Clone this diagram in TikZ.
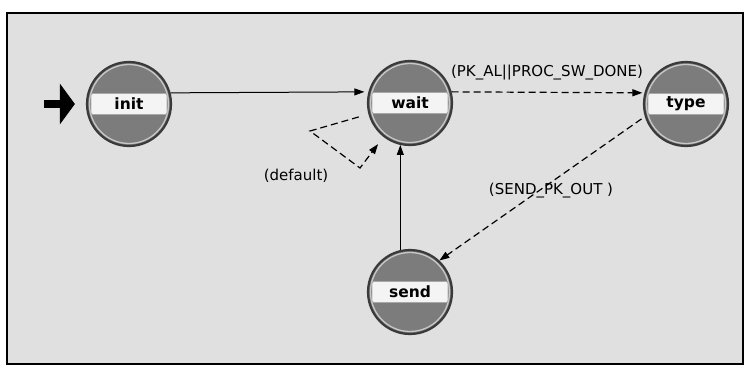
\documentclass[tikz,border=0pt]{standalone}
\usepackage{fontspec}
\setmainfont{DejaVu Sans}
\usetikzlibrary{arrows.meta}
\definecolor{bg}{HTML}{E0E0E0}
\definecolor{stfill}{HTML}{7C7C7C}
\definecolor{stline}{HTML}{3A3A3A}
\definecolor{string}{HTML}{C8C8C8}
\definecolor{band}{HTML}{F4F4F4}
\definecolor{bandline}{HTML}{A8A8A8}
\begin{document}
\begin{tikzpicture}[x=1pt,y=-1pt,
  state/.style={circle, minimum size=84pt, inner sep=0pt, fill=stfill, draw=stline, line width=2.2pt,
    font=\fontsize{15.5}{15.5}\selectfont\bfseries,
    path picture={
      \draw[string, line width=1.3pt] (path picture bounding box.center) circle (39.5pt);
      \draw[fill=band, draw=bandline, line width=0.8pt, rounded corners=2pt]
        ([shift={(-38,-10.5)}]path picture bounding box.center) rectangle
        ([shift={(38,10.5)}]path picture bounding box.center);}},
  trans/.style={draw=black, line width=1pt, -{Triangle[length=10pt 0 0,width=7pt 0 0]}},
  dtrans/.style={trans, line width=1.2pt, dash pattern=on 7pt off 4pt},
  startarrow/.style={draw=black, line width=8pt, -{Triangle[length=15pt 0 0,width=40pt 0 0]}},
  lab/.style={font=\fontsize{15}{15}\selectfont, inner sep=0pt}]
\fill[white] (0,0) rectangle (746,369);
\useasboundingbox (0,0) rectangle (746,369);
\draw[line width=1.5pt, fill=bg] (7,13) rectangle (743,364);

\node[state] (init) at (129,104) {init};
\node[state] (wait) at (410,103) {wait};
\node[state] (type) at (686,104) {type};
\node[state] (send) at (410,292) {send};

\coordinate (start) at (44,104);
\coordinate (loopA) at (310,131);
\coordinate (loopB) at (360,168);

\draw[startarrow, shorten >=11pt] (start) -- (init.west);
\draw[trans, shorten >=4pt] (init.15) -- (wait.165);
\draw[dtrans, shorten >=2pt] (wait.15) -- (type.165);
\draw[dtrans, shorten <=4pt] (type.197) -- (send.47);
\draw[trans] (send.103) -- (wait.257);
\draw[dtrans, shorten <=10pt, shorten >=9pt] (wait.195) -- (loopA) -- (loopB) -- (wait.232);

\node[lab] (l1) at (547,73) {(PK\_AL||PROC\_SW\_DONE)};
\node[lab] (l2) at (551,191) {(SEND\_PK\_OUT )};
\node[lab] (l3) at (296,176) {(default)};
\end{tikzpicture}
\end{document}
